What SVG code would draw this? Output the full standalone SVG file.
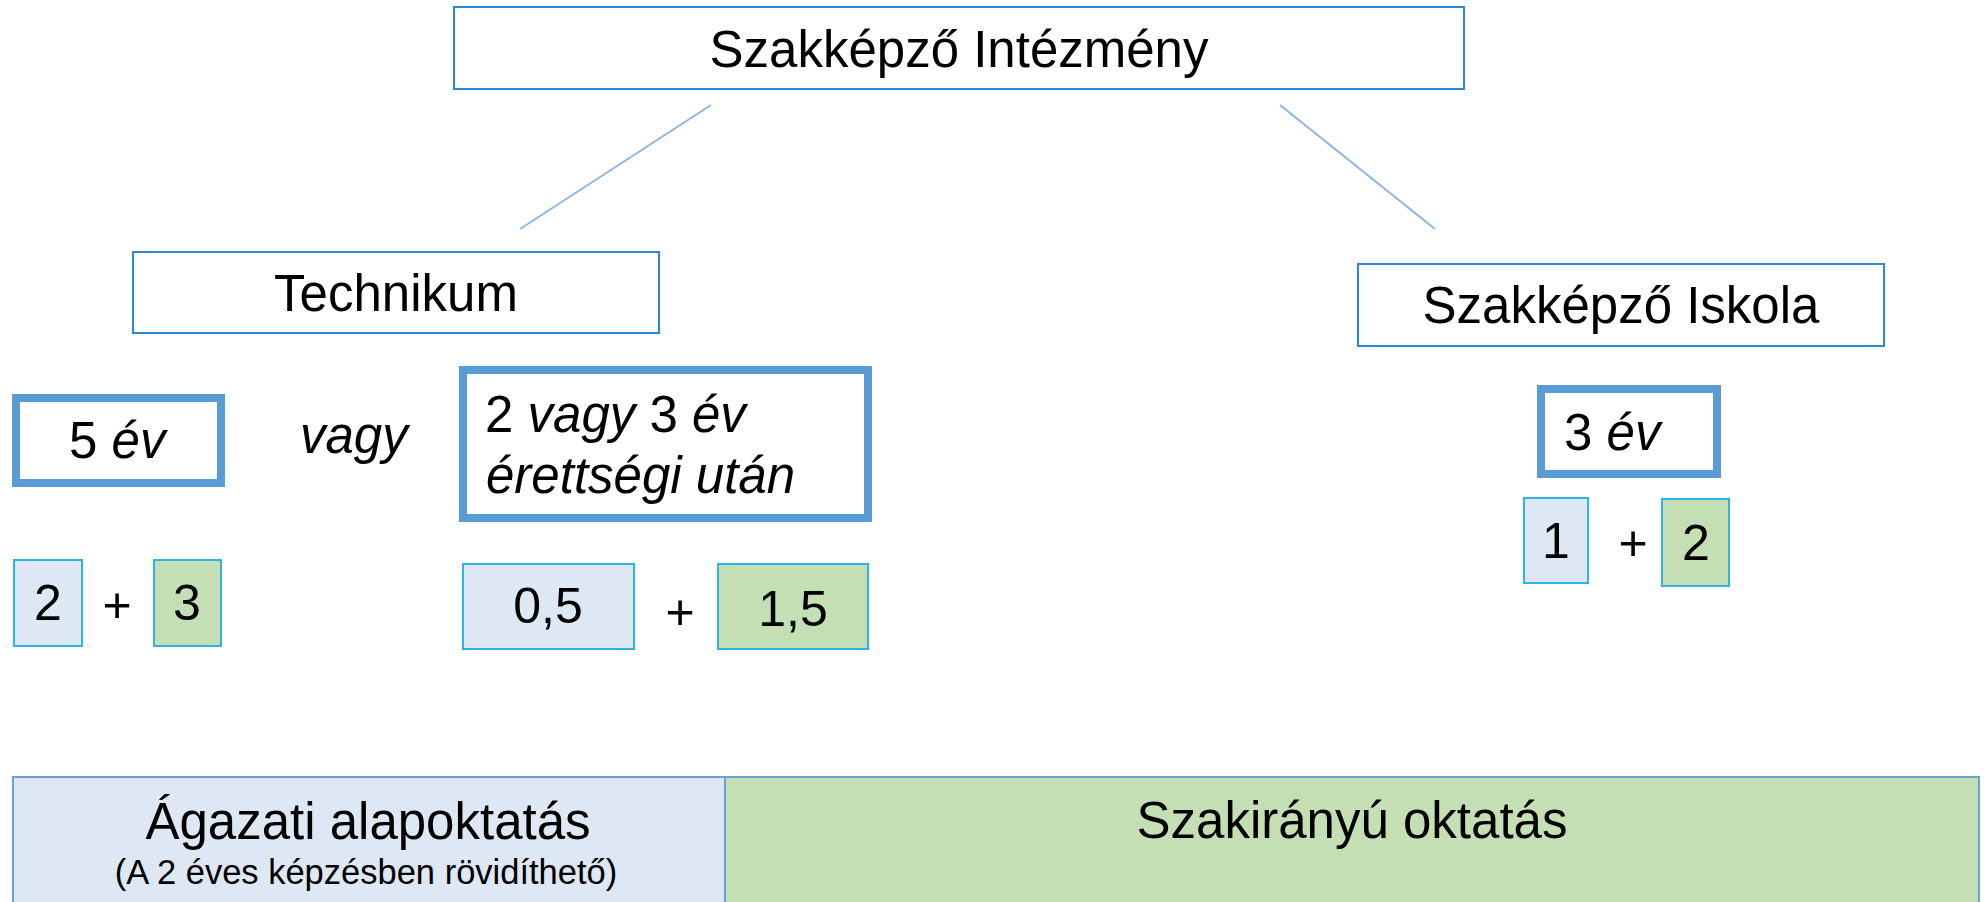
<svg xmlns="http://www.w3.org/2000/svg" width="1988" height="902" viewBox="0 0 1988 902">
  <style>
    text { font-family: "Liberation Sans", Arial, sans-serif; fill: #000; }
    .lbl { font-size: 51px; }
    .num { font-size: 50px; text-anchor: middle; }
    .it { font-style: italic; }
    .thin { fill: #fff; stroke: #2E86D6; stroke-width: 2; }
    .thick { fill: #fff; stroke: #5B9BD5; stroke-width: 8; }
    .blue { fill: #DEE8F4; stroke: #2DB3E8; stroke-width: 2; }
    .green { fill: #C5DFB4; stroke: #2DB3E8; stroke-width: 2; }
    .conn { stroke: #8DB5E2; stroke-width: 2; fill: none; }
    .band-l { fill: #DEE8F4; stroke: #6A9FD8; stroke-width: 2; }
    .band-r { fill: #C5DFB4; stroke: #6A9FD8; stroke-width: 2; }
  </style>

  <g id="connectors">
    <line class="conn" x1="711" y1="105" x2="520" y2="229"/>
    <line class="conn" x1="1280" y1="105" x2="1435" y2="229"/>
  </g>

  <g id="szakkepzo-intezmeny">
    <rect class="thin" x="454" y="7" width="1010" height="82"/>
    <text class="lbl" x="959" y="67" text-anchor="middle">Szakképző Intézmény</text>
  </g>

  <g id="technikum">
    <rect class="thin" x="133" y="252" width="526" height="81"/>
    <text class="lbl" x="396" y="311" text-anchor="middle">Technikum</text>
  </g>

  <g id="szakkepzo-iskola">
    <rect class="thin" x="1358" y="264" width="526" height="82"/>
    <text class="lbl" x="1621" y="323" text-anchor="middle">Szakképző Iskola</text>
  </g>

  <g id="ot-ev">
    <rect class="thick" x="16" y="398" width="205" height="85"/>
    <text class="lbl" x="69" y="458">5 <tspan class="it">év</tspan></text>
  </g>

  <g id="vagy">
    <text class="lbl it" x="300" y="453">vagy</text>
  </g>

  <g id="ket-vagy-harom-ev">
    <rect class="thick" x="463" y="370" width="405" height="148"/>
    <text class="lbl" x="485" y="432">2 <tspan class="it">vagy</tspan> 3 <tspan class="it">év</tspan></text>
    <text class="lbl it" x="486" y="493">érettségi után</text>
  </g>

  <g id="technikum-5ev-split">
    <rect class="blue" x="14" y="560" width="68" height="86"/>
    <text class="num" x="48" y="620">2</text>
    <text class="num" x="117" y="622">+</text>
    <rect class="green" x="154" y="560" width="67" height="86"/>
    <text class="num" x="187" y="620">3</text>
  </g>

  <g id="technikum-erettsegi-split">
    <rect class="blue" x="463" y="564" width="171" height="85"/>
    <text class="num" x="548" y="623">0,5</text>
    <text class="num" x="680" y="629">+</text>
    <rect class="green" x="718" y="564" width="150" height="85"/>
    <text class="num" x="793" y="626">1,5</text>
  </g>

  <g id="harom-ev">
    <rect class="thick" x="1541" y="389" width="176" height="85"/>
    <text class="lbl" x="1564" y="450">3 <tspan class="it">év</tspan></text>
  </g>

  <g id="iskola-split">
    <rect class="blue" x="1524" y="498" width="64" height="85"/>
    <text class="num" x="1556" y="558">1</text>
    <text class="num" x="1633" y="560">+</text>
    <rect class="green" x="1662" y="499" width="67" height="87"/>
    <text class="num" x="1696" y="560">2</text>
  </g>

  <g id="agazati-alapoktatas">
    <rect class="band-l" x="13" y="777" width="712" height="130"/>
    <text x="368" y="839" font-size="51" text-anchor="middle">Ágazati alapoktatás</text>
    <text x="366" y="884" font-size="34.5" text-anchor="middle">(A 2 éves képzésben rövidíthető)</text>
  </g>

  <g id="szakiranyu-oktatas">
    <rect class="band-r" x="725" y="777" width="1254" height="130"/>
    <text x="1352" y="838" font-size="51" text-anchor="middle">Szakirányú oktatás</text>
  </g>
</svg>
